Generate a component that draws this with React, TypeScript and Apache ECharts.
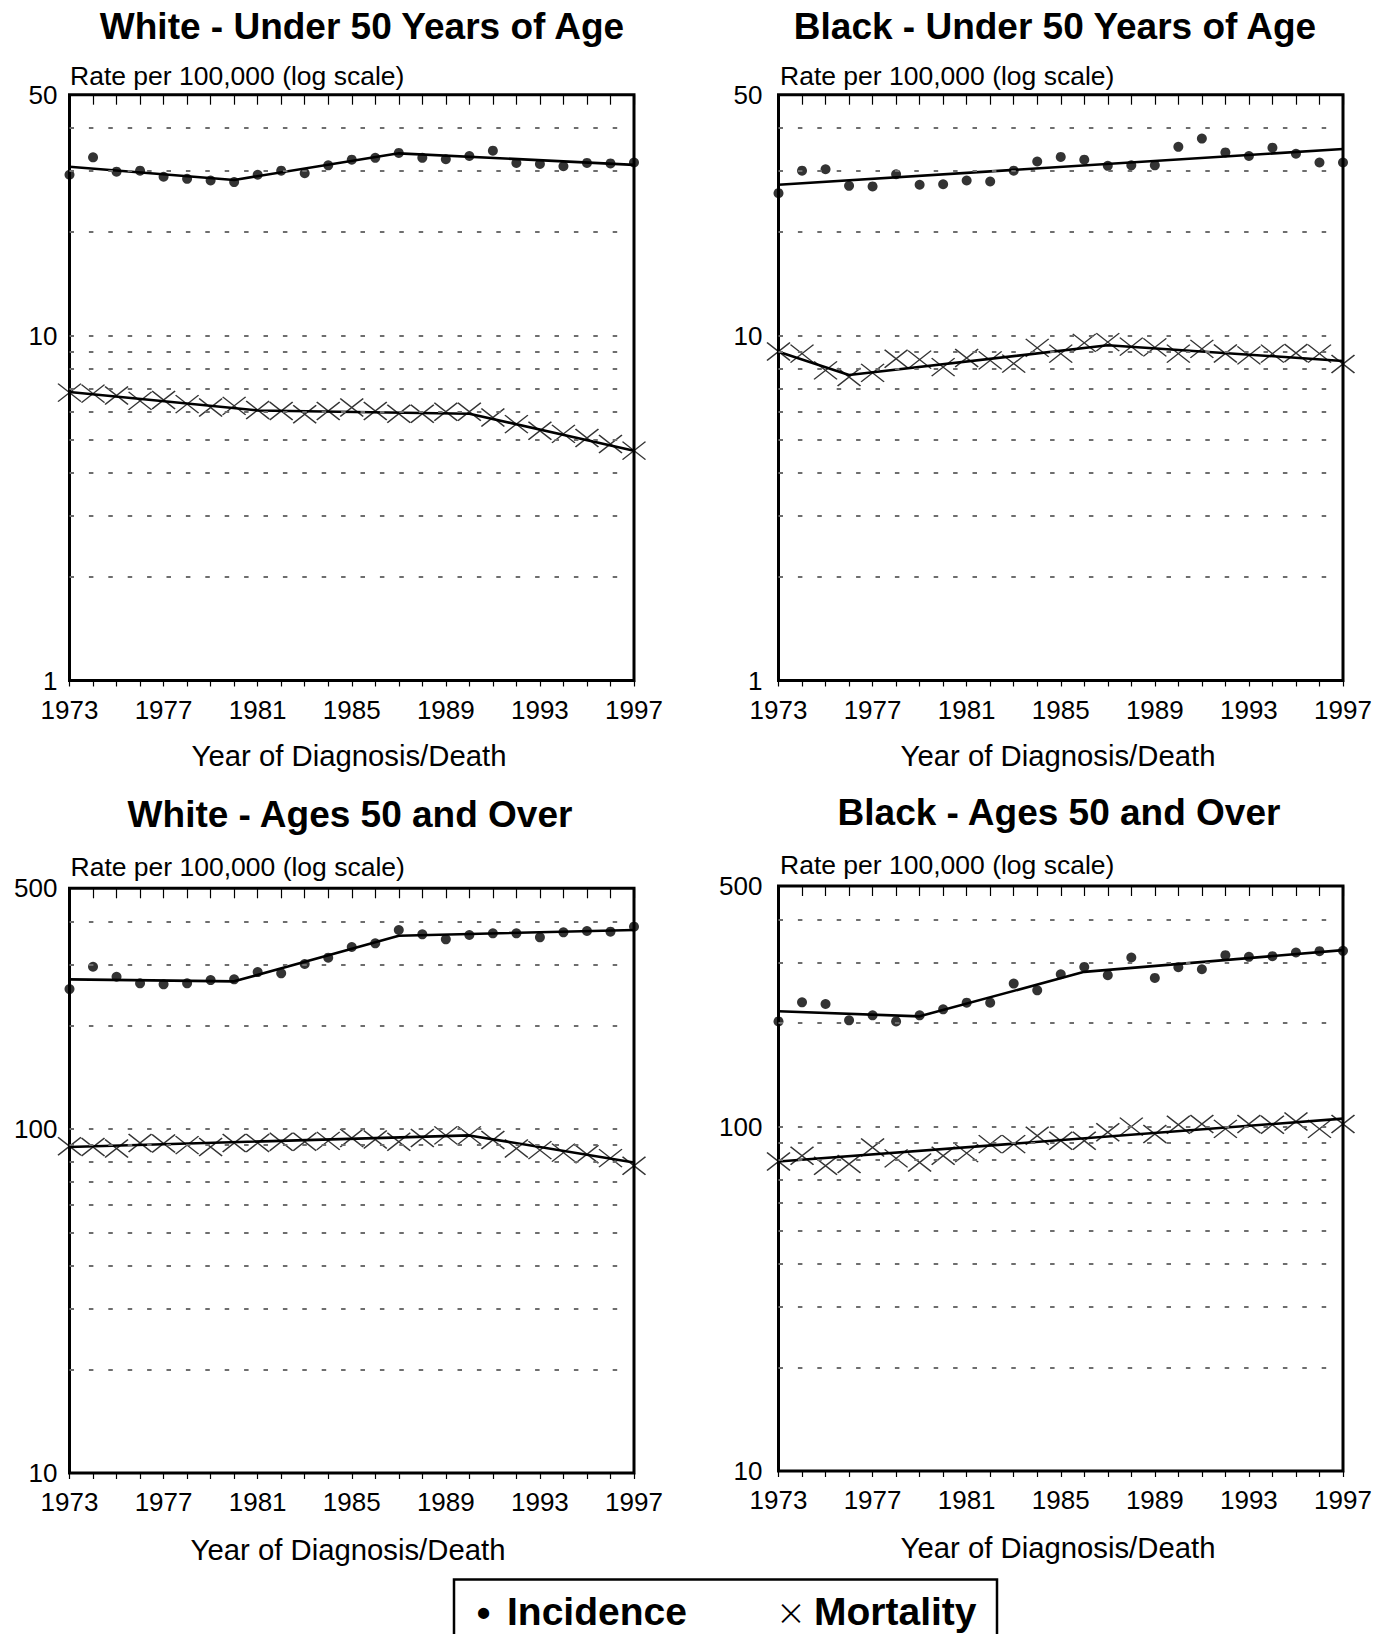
import React, { useEffect, useRef } from "react";
import * as echarts from "echarts";

const FONT = "'Liberation Sans', Arial, Helvetica, sans-serif";

const years = [
  1973, 1974, 1975, 1976, 1977, 1978, 1979, 1980, 1981, 1982, 1983, 1984, 1985,
  1986, 1987, 1988, 1989, 1990, 1991, 1992, 1993, 1994, 1995, 1996, 1997,
];
const labelYears = [1973, 1977, 1981, 1985, 1989, 1993, 1997];

const underTicks = [1, 10, 50];
const overTicks = [10, 100, 500];
const underGridValues = [2, 3, 4, 5, 6, 7, 8, 9, 10, 20, 30, 40];
const overGridValues = [20, 30, 40, 50, 60, 70, 80, 90, 100, 200, 300, 400];

// White - Under 50
const wUnderInc = [29.3, 32.9, 29.9, 30.1, 28.9, 28.5, 28.2, 27.9, 29.3, 30.1, 29.6, 31.2, 32.4, 32.8, 33.9, 32.8, 32.5, 33.2, 34.4, 31.7, 31.5, 31.0, 31.7, 31.6, 31.8];
const wUnderMort = [6.84, 6.79, 6.71, 6.47, 6.51, 6.33, 6.19, 6.26, 6.09, 6.05, 5.92, 6.05, 6.19, 6.05, 5.94, 5.94, 6.02, 6.02, 5.79, 5.54, 5.3, 5.19, 5.05, 4.85, 4.64];
const wUnderIncFit = [[1973, 30.9], [1980, 28.3], [1987, 33.8], [1997, 31.3]];
const wUnderMortFit = [[1973, 6.87], [1981, 6.07], [1990, 5.94], [1997, 4.64]];

// Black - Under 50
const bUnderInc = [25.9, 30.1, 30.4, 27.2, 27.1, 29.4, 27.4, 27.5, 28.2, 28.0, 30.1, 32.0, 33.0, 32.4, 31.1, 31.2, 31.2, 35.3, 37.3, 34.0, 33.2, 35.1, 33.7, 31.8, 31.8];
const bUnderMort = [9.0, 8.87, 7.93, 7.59, 7.8, 8.57, 8.52, 8.11, 8.62, 8.48, 8.3, 9.22, 8.87, 9.53, 9.58, 9.3, 9.25, 8.87, 9.16, 8.88, 8.77, 8.87, 8.91, 8.87, 8.28];
const bUnderIncFit = [[1973, 27.4], [1997, 34.8]];
const bUnderMortFit = [[1973, 8.99], [1976, 7.69], [1987, 9.38], [1997, 8.45]];

// White - Ages 50 and Over
const wOverInc = [254.8, 295.8, 276.7, 264.8, 263, 264.8, 270.6, 271.9, 285.5, 283, 301.3, 314.3, 337.6, 346, 378.2, 367.5, 355.3, 365.8, 370, 370, 360.1, 372.4, 375.8, 374, 386.8];
const wOverMort = [89.0, 88.6, 87.7, 91.0, 90.7, 89.7, 88.6, 91.0, 91.0, 91.7, 91.7, 92.3, 94.1, 93.1, 91.7, 94.1, 95.7, 95.7, 92.8, 87.7, 86.7, 85.3, 84.4, 82.2, 78.1];
const wOverIncFit = [[1973, 271.9], [1980, 268.3], [1987, 364.1], [1997, 378.2]];
const wOverMortFit = [[1973, 88.6], [1990, 95.7], [1997, 79.8]];

// Black - Ages 50 and Over
const bOverInc = [202.2, 229.7, 227.1, 203.6, 210.5, 202.2, 210.5, 219.2, 229.2, 229.2, 260.4, 248.9, 277.2, 291.1, 275.4, 309.9, 270.4, 290.5, 286.6, 314.8, 311.3, 312.7, 320.6, 323.4, 324.1];
const bOverMort = [79.2, 82.3, 77.0, 77.9, 87.0, 80.9, 78.7, 82.3, 83.8, 89.0, 89.0, 94.1, 91.0, 91.0, 96.3, 100, 95.2, 101.3, 101.8, 98.5, 101.8, 101.3, 103.5, 98.5, 101.8];
const bOverIncFit = [[1973, 216.3], [1979, 209.1], [1986, 281.6], [1997, 325.6]];
const bOverMortFit = [[1973, 79.2], [1997, 105.5]];

const GRID_X0 = 1973;
const GRID_X1 = 1996.3;

const panels = [
  {
    title: "White - Under 50 Years of Age", titleX: 362, titleY: 26,
    left: 69.5, top: 94.7, height: 585.8, min: 1, max: 50, ticks: underTicks, gridValues: underGridValues,
    inc: wUnderInc, mort: wUnderMort, incFit: wUnderIncFit, mortFit: wUnderMortFit,
    labelMargin: 12, subX: 70, subY: 75.5, nameX: 349, nameY: 755,
  },
  {
    title: "Black - Under 50 Years of Age", titleX: 1055, titleY: 26,
    left: 778.5, top: 94.7, height: 585.8, min: 1, max: 50, ticks: underTicks, gridValues: underGridValues,
    inc: bUnderInc, mort: bUnderMort, incFit: bUnderIncFit, mortFit: bUnderMortFit,
    labelMargin: 16, subX: 780, subY: 75.5, nameX: 1058, nameY: 755,
  },
  {
    title: "White - Ages 50 and Over", titleX: 350, titleY: 814,
    left: 69.5, top: 888.3, height: 584.7, min: 10, max: 500, ticks: overTicks, gridValues: overGridValues,
    inc: wOverInc, mort: wOverMort, incFit: wOverIncFit, mortFit: wOverMortFit,
    labelMargin: 12, subX: 70.5, subY: 867, nameX: 348, nameY: 1549,
  },
  {
    title: "Black - Ages 50 and Over", titleX: 1059, titleY: 812,
    left: 778.5, top: 886, height: 585, min: 10, max: 500, ticks: overTicks, gridValues: overGridValues,
    inc: bOverInc, mort: bOverMort, incFit: bOverIncFit, mortFit: bOverMortFit,
    labelMargin: 16, subX: 780, subY: 865, nameX: 1058, nameY: 1547,
  },
];

const PLOT_W = 564.5;
const CROSS = "path://M0 0L23 18M23 0L0 18";

function txt(x: number, y: number, t: string, size: number, weight: any, align = "left", family = FONT) {
  return {
    type: "text",
    x,
    y,
    silent: true,
    z: 10,
    style: {
      text: t,
      fontSize: size,
      fontWeight: weight,
      fontFamily: family,
      fill: "#000",
      align,
      verticalAlign: "middle",
      textAlign: align,
      textVerticalAlign: "middle",
    },
  };
}

function buildOption() {
  const grid: any[] = [];
  const xAxis: any[] = [];
  const yAxis: any[] = [];
  const series: any[] = [];
  const graphic: any[] = [];

  panels.forEach((p, i) => {
    grid.push({
      left: p.left,
      top: p.top,
      width: PLOT_W,
      height: p.height,
      show: true,
      borderColor: "#000",
      borderWidth: 3,
      backgroundColor: "rgba(0,0,0,0)",
      containLabel: false,
      outerBoundsMode: "none",
    });
    xAxis.push({
      gridIndex: i,
      type: "value",
      position: "bottom",
      min: 1973,
      max: 1997,
      axisLine: { show: false },
      axisTick: { show: true, inside: false, length: 6, lineStyle: { color: "#000", width: 1.2 }, customValues: years },
      axisLabel: { show: true, customValues: labelYears, fontSize: 26, fontFamily: FONT, color: "#000", margin: 16, formatter: (v: number) => String(v) },
      splitLine: { show: false },
    });
    xAxis.push({
      gridIndex: i,
      type: "value",
      position: "top",
      min: 1973,
      max: 1997,
      axisLine: { show: false },
      axisTick: { show: true, inside: true, length: 10, lineStyle: { color: "#000", width: 1.2 }, customValues: years },
      axisLabel: { show: false },
      splitLine: { show: false },
    });
    yAxis.push({
      gridIndex: i,
      type: "log",
      logBase: 10,
      min: p.min,
      max: p.max,
      axisLine: { show: false },
      axisTick: { show: false },
      splitLine: { show: false },
      minorTick: { show: false },
      axisLabel: {
        show: true,
        customValues: p.ticks,
        fontSize: 26,
        fontFamily: FONT,
        color: "#000",
        margin: p.labelMargin,
        formatter: (v: number) => String(Math.round(v)),
      },
    });

    series.push({
      type: "line",
      xAxisIndex: 2 * i,
      yAxisIndex: i,
      data: p.incFit,
      showSymbol: false,
      symbol: "none",
      clip: false,
      silent: true,
      z: 3,
      lineStyle: { color: "#000", width: 2.6 },
      markLine: {
        silent: true,
        symbol: ["none", "none"],
        label: { show: false },
        lineStyle: { color: "#6e6e6e", width: 2, type: [4.5, 14.9] },
        emphasis: { disabled: true },
        data: p.gridValues.map((v) => [{ coord: [GRID_X0, v] }, { coord: [GRID_X1, v] }]),
      },
    });
    series.push({
      type: "line",
      xAxisIndex: 2 * i,
      yAxisIndex: i,
      data: p.mortFit,
      showSymbol: false,
      symbol: "none",
      clip: false,
      silent: true,
      z: 3,
      lineStyle: { color: "#000", width: 2.6 },
    });
    series.push({
      type: "scatter",
      xAxisIndex: 2 * i,
      yAxisIndex: i,
      data: years.map((y, k) => [y, p.inc[k]]),
      symbol: "circle",
      symbolSize: 10,
      clip: false,
      silent: true,
      z: 4,
      itemStyle: { color: "#000" },
    });
    series.push({
      type: "scatter",
      xAxisIndex: 2 * i,
      yAxisIndex: i,
      data: years.map((y, k) => [y, p.mort[k]]),
      symbol: CROSS,
      symbolSize: [23, 18],
      clip: false,
      silent: true,
      z: 4,
      itemStyle: { color: "rgba(0,0,0,0)", borderColor: "#000", borderWidth: 1.4 },
    });

    graphic.push(txt(p.titleX, p.titleY, p.title, 37, "bold", "center"));
    graphic.push(txt(p.subX, p.subY, "Rate per 100,000 (log scale)", 26.5, "normal", "left"));
    graphic.push(txt(p.nameX, p.nameY, "Year of Diagnosis/Death", 29.3, "normal", "center"));
  });

  graphic.push({
    type: "rect",
    silent: true,
    z: 9,
    shape: { x: 454, y: 1579.5, width: 543, height: 80 },
    style: { fill: "#fff", stroke: "#000", lineWidth: 2.5 },
  });
  graphic.push(txt(483.5, 1612, "•", 39, "bold", "center"));
  graphic.push(txt(507, 1611.5, "Incidence", 39, "bold", "left"));
  graphic.push(txt(791, 1610, "×", 44, 200, "center", "Inter, 'Liberation Sans', sans-serif"));
  graphic.push(txt(814, 1611.5, "Mortality", 39, "bold", "left"));

  return {
    animation: false,
    backgroundColor: "#fff",
    textStyle: { fontFamily: FONT },
    grid,
    xAxis,
    yAxis,
    series,
    graphic,
  };
}

export default function App() {
  const ref = useRef<HTMLDivElement>(null);
  useEffect(() => {
    if (!ref.current) return;
    const chart = echarts.init(ref.current, null, { renderer: "svg", width: 1387, height: 1634 });
    chart.setOption(buildOption() as any);
    return () => {
      chart.dispose();
    };
  }, []);
  return (
    <div
      ref={ref}
      style={{ position: "absolute", left: 0, top: 0, width: 1387, height: 1634, background: "#fff" }}
    />
  );
}
